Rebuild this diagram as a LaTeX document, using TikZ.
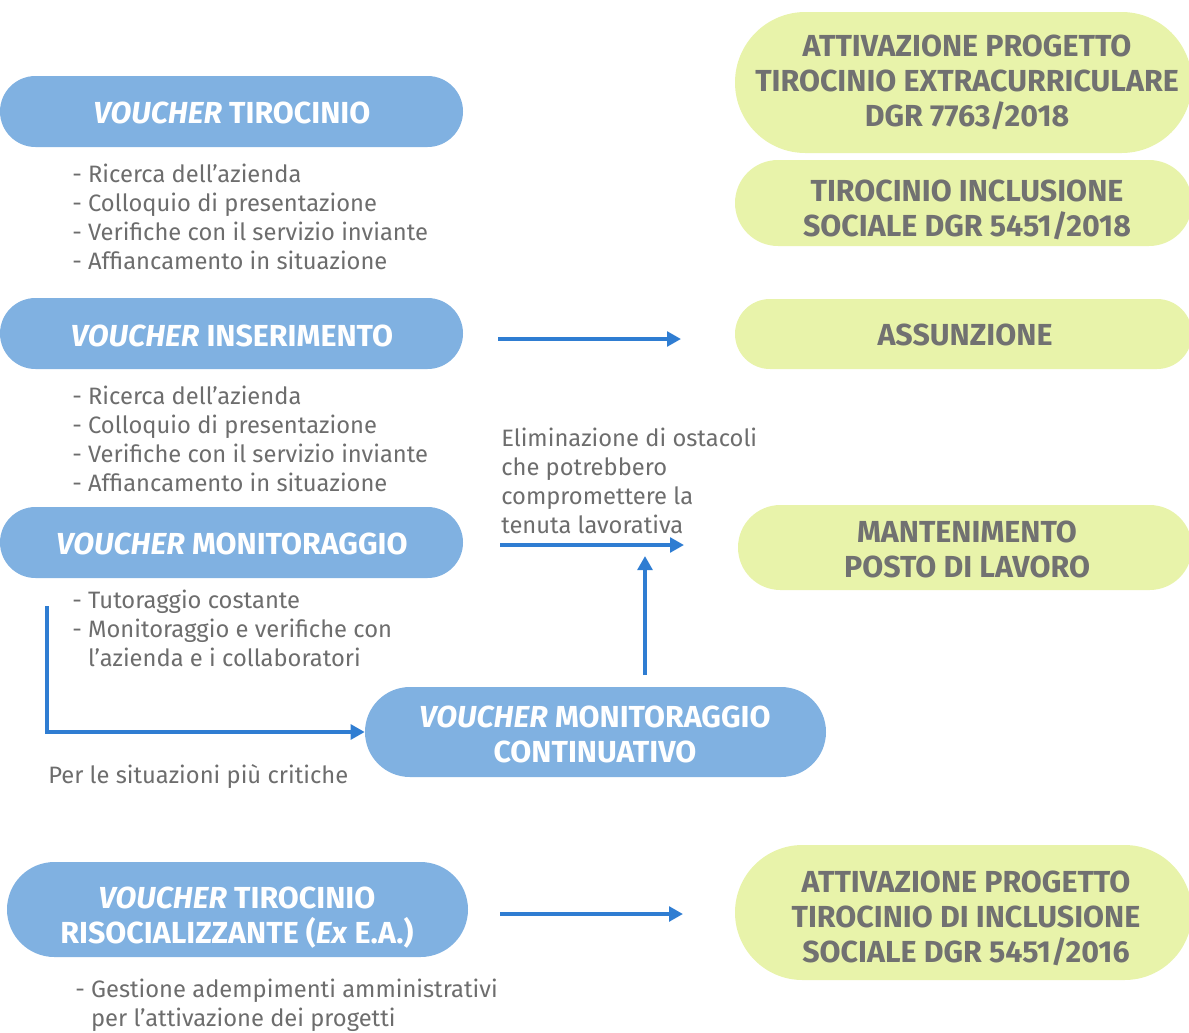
\documentclass[tikz,border=0pt]{standalone}
\usepackage{fontspec}
\setmainfont{Fira Sans}
\usetikzlibrary{arrows.meta}
\definecolor{bluebox}{HTML}{80B1E1}
\definecolor{greenbox}{HTML}{E8F3AA}
\definecolor{arrowblue}{HTML}{2F7DD2}
\definecolor{greytext}{HTML}{6D6D6D}
\definecolor{boxtext}{HTML}{717171}
\begin{document}
\begin{tikzpicture}[x=0.75pt,y=-0.75pt,
  pill/.style={rectangle,inner sep=0pt},
  bpill/.style={pill,fill=bluebox},
  gpill/.style={pill,fill=greenbox},
  ptext/.style={inner sep=0pt,align=center,font=\fontsize{22.8}{26.25}\selectfont\bfseries},
  btext/.style={ptext,text=white},
  gtext/.style={ptext,text=boxtext},
  list/.style={anchor=north west,inner sep=0pt,align=left,text=greytext,font=\fontsize{17.8}{21.75}\selectfont},
  arr/.style={draw=arrowblue,line width=3pt,-{Triangle[length=10.5pt,width=11pt]}}]
\useasboundingbox (0,0) rectangle (1189,1032);

% blue boxes
\node[bpill,minimum width=347.25pt,minimum height=53.25pt,rounded corners=26.6pt] (vt) at (231.5,111.5) {};
\node[btext] (vtT) at (232,113) {\textit{VOUCHER} TIROCINIO};
\node[bpill,minimum width=347.25pt,minimum height=53.25pt,rounded corners=26.6pt] (vi) at (231.5,333.5) {};
\node[btext] (viT) at (232,336) {\textit{VOUCHER} INSERIMENTO};
\node[bpill,minimum width=347.25pt,minimum height=53.25pt,rounded corners=26.6pt] (vm) at (231.5,542.5) {};
\node[btext] (vmT) at (232,544) {\textit{VOUCHER} MONITORAGGIO};
\node[bpill,minimum width=345.75pt,minimum height=67.5pt,rounded corners=33.7pt] (vmc) at (595.5,732) {};
\node[btext] (vmcT) at (595,734.5) {\textit{VOUCHER} MONITORAGGIO\\CONTINUATIVO};
\node[bpill,minimum width=345.75pt,minimum height=71.25pt,rounded corners=35.6pt] (vtr) at (237.5,909.5) {};
\node[btext] (vtrT) at (237,917.5) {\textit{VOUCHER} TIROCINIO\\RISOCIALIZZANTE (\textit{Ex} E.A.)};

% green boxes
\node[gpill,minimum width=342.75pt,minimum height=105.75pt,rounded corners=52.8pt] (g1) at (963.5,82.5) {};
\node[gtext] (g1T) at (967,82.5) {ATTIVAZIONE PROGETTO\\TIROCINIO EXTRACURRICULARE\\DGR 7763/2018};
\node[gpill,minimum width=342.75pt,minimum height=64.5pt,rounded corners=32.2pt] (g2) at (963.5,203) {};
\node[gtext] (g2T) at (967,209.5) {TIROCINIO INCLUSIONE\\SOCIALE DGR 5451/2018};
\node[gpill,minimum width=342.75pt,minimum height=52.5pt,rounded corners=26.2pt] (g3) at (963.5,334) {};
\node[gtext] (g3T) at (965,335) {ASSUNZIONE};
\node[gpill,minimum width=340.5pt,minimum height=63.75pt,rounded corners=31.8pt] (g4) at (965,547.5) {};
\node[gtext] (g4T) at (967,549.5) {MANTENIMENTO\\POSTO DI LAVORO};
\node[gpill,minimum width=342.75pt,minimum height=101.25pt,rounded corners=50.6pt] (g5) at (963.5,912.5) {};
\node[gtext] (g5T) at (966,918.5) {ATTIVAZIONE PROGETTO\\TIROCINIO DI INCLUSIONE\\SOCIALE DGR 5451/2016};

% lists
\node[list] (l1) at (72,163.5) {- Ricerca dell’azienda\\- Colloquio di presentazione\\- Verifiche con il servizio inviante\\- Affiancamento in situazione};
\node[list] (l2) at (72,385.5) {- Ricerca dell’azienda\\- Colloquio di presentazione\\- Verifiche con il servizio inviante\\- Affiancamento in situazione};
\node[list] (l3) at (72,589.5) {- Tutoraggio costante\\- Monitoraggio e verifiche con\\\phantom{- }l’azienda e i collaboratori};
\node[list] (l4) at (48,764.5) {Per le situazioni più critiche};
\node[list] (l5) at (75,979) {- Gestione adempimenti amministrativi\\\phantom{- }per l’attivazione dei progetti};
\node[list] (l6) at (501,427.5) {Eliminazione di ostacoli\\che potrebbero\\compromettere la\\tenuta lavorativa};

% arrows
\coordinate (a1s) at (498,339); \coordinate (a1e) at (681,339);
\coordinate (a2s) at (500,545); \coordinate (a2e) at (684,545);
\coordinate (a3s) at (645,675); \coordinate (a3e) at (645,556);
\coordinate (a4s) at (47,606);
\coordinate (a5s) at (500,914); \coordinate (a5e) at (683,914);
\draw[arr] (a1s) -- (a1e);
\draw[arr] (a2s) -- (a2e);
\draw[arr] (a3s) -- (a3e);
\draw[arr] (a4s) |- (vmc.west);
\draw[arr] (a5s) -- (a5e);
\end{tikzpicture}
\end{document}
